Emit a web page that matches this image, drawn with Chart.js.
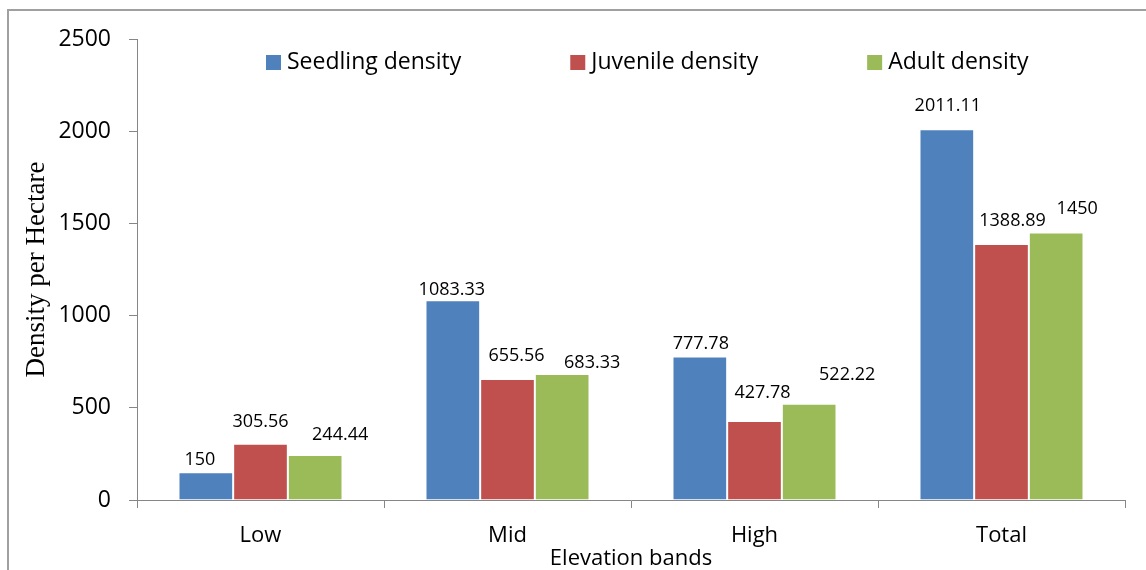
<!DOCTYPE html>
<html>
<head>
<meta charset="utf-8">
<script src="https://cdn.jsdelivr.net/npm/chart.js@4.4.0/dist/chart.umd.min.js"></script>
<style>
    html, body { margin: 0; padding: 0; background: #fff; }
    #wrap { position: relative; width: 1146px; height: 570px; overflow: hidden; }
    #frame { position: absolute; left: 7px; top: 9px; width: 1200px; height: 600px; border-left: 2px solid #a0a0a0; border-top: 2px solid #a0a0a0; }
    canvas { position: absolute; left: 0; top: 0; }
</style>
</head>
<body>
<div id="wrap">
    <div id="frame"></div>
    <canvas id="densityChart" width="1146" height="570"></canvas>
</div>
<script>
const bands = ['Low', 'Mid', 'High', 'Total']
const seedling = [150, 1083.33, 777.78, 2011.11]
const juvenile = [305.56, 655.56, 427.78, 1388.89]
const adult = [244.44, 683.33, 522.22, 1450]
const yTicks = [0, 500, 1000, 1500, 2000, 2500]

const axisGrey = '#868686'

// value labels sit where the original put them, a little off the bar top
const valueLabels = {
    id: 'valueLabels',
    afterDatasetsDraw(chart, args, opts) {
        const ctx = chart.ctx
        ctx.save()
        ctx.font = opts.font
        ctx.fillStyle = '#000'
        ctx.textAlign = 'center'
        ctx.textBaseline = 'middle'
        chart.data.datasets.forEach((ds, i) => {
            const meta = chart.getDatasetMeta(i)
            meta.data.forEach((bar, j) => {
                const dx = opts.shiftX[i][j]
                const lift = opts.lift[i][j]
                ctx.fillText(String(ds.data[j]), bar.x + dx, bar.y - lift)
            })
        })
        ctx.restore()
    }
}

// legend drawn inside the plot, across the top
const innerLegend = {
    id: 'innerLegend',
    afterDraw(chart, args, opts) {
        const { ctx, chartArea } = chart
        ctx.save()
        ctx.font = opts.font
        ctx.textBaseline = 'middle'
        let x = chartArea.left + opts.offsetX
        const y = chartArea.top + opts.offsetY
        chart.data.datasets.forEach(ds => {
            ctx.fillStyle = ds.backgroundColor
            ctx.fillRect(x, y - opts.box / 2, opts.box, opts.box)
            x += opts.box + opts.gap
            ctx.fillStyle = '#000'
            ctx.fillText(ds.label, x, y)
            x += ctx.measureText(ds.label).width + opts.spacing
        })
        ctx.restore()
    }
}

const ctx = document.getElementById('densityChart').getContext('2d')

new Chart(ctx, {
    type: 'bar',
    data: {
        labels: bands,
        datasets: [{
            label: 'Seedling density',
            data: seedling,
            backgroundColor: '#4F81BD',
            borderColor: 'rgba(255,255,255,0.18)',
            borderWidth: 1,
        }, {
            label: 'Juvenile density',
            data: juvenile,
            backgroundColor: '#C0504D',
            borderColor: 'rgba(255,255,255,0.18)',
            borderWidth: 1,
        }, {
            label: 'Adult density',
            data: adult,
            backgroundColor: '#9BBB59',
            borderColor: 'rgba(255,255,255,0.18)',
            borderWidth: 1,
        }]
    },
    options: {
        responsive: false,
        animation: false,
        layout: {
            padding: { top: 39, right: 21, left: 0, bottom: 0 }
        },
        datasets: {
            bar: {
                categoryPercentage: 0.664,
                barPercentage: 1,
            }
        },
        scales: {
            x: {
                afterFit(scale) { scale.height = 70 },
                grid: {
                    offset: true,
                    drawOnChartArea: false,
                    tickLength: 8,
                    color: axisGrey,
                },
                border: { display: true, color: axisGrey },
                ticks: {
                    padding: 15,
                    color: '#000',
                    font: { family: 'Open Sans', size: 22 }
                },
                title: {
                    display: true,
                    text: 'Elevation bands',
                    color: '#000',
                    padding: { top: 0, bottom: -2 },
                    font: { family: 'Open Sans', size: 22 }
                }
            },
            y: {
                min: 0,
                max: 2500,
                afterFit(scale) { scale.width = 137 },
                afterBuildTicks(scale) { scale.ticks = yTicks.map(v => ({ value: v })) },
                grid: {
                    drawOnChartArea: false,
                    tickLength: 8,
                    color: axisGrey,
                },
                border: { display: true, color: axisGrey },
                ticks: {
                    padding: 18,
                    color: '#000',
                    font: { family: 'Open Sans', size: 23 },
                    callback: v => String(v)
                },
                title: {
                    display: true,
                    text: 'Density per Hectare',
                    color: '#000',
                    padding: { top: 21, bottom: 0 },
                    font: { family: 'Liberation Serif', size: 27 }
                }
            }
        },
        plugins: {
            legend: { display: false },
            tooltip: { enabled: false },
            valueLabels: {
                font: '18px "Open Sans"',
                shiftX: [[-6, -1, 1, 1], [0, 9, 8, 11], [25, 30, 38, 21]],
                lift: [[12, 10, 13, 23], [22, 23, 28, 23], [20, 11, 29, 24]],
            },
            innerLegend: {
                font: '23px "Open Sans"',
                offsetX: 129,
                offsetY: 23.5,
                box: 15,
                gap: 6,
                spacing: 109,
            }
        }
    },
    plugins: [valueLabels, innerLegend]
});
</script>
</body>
</html>
